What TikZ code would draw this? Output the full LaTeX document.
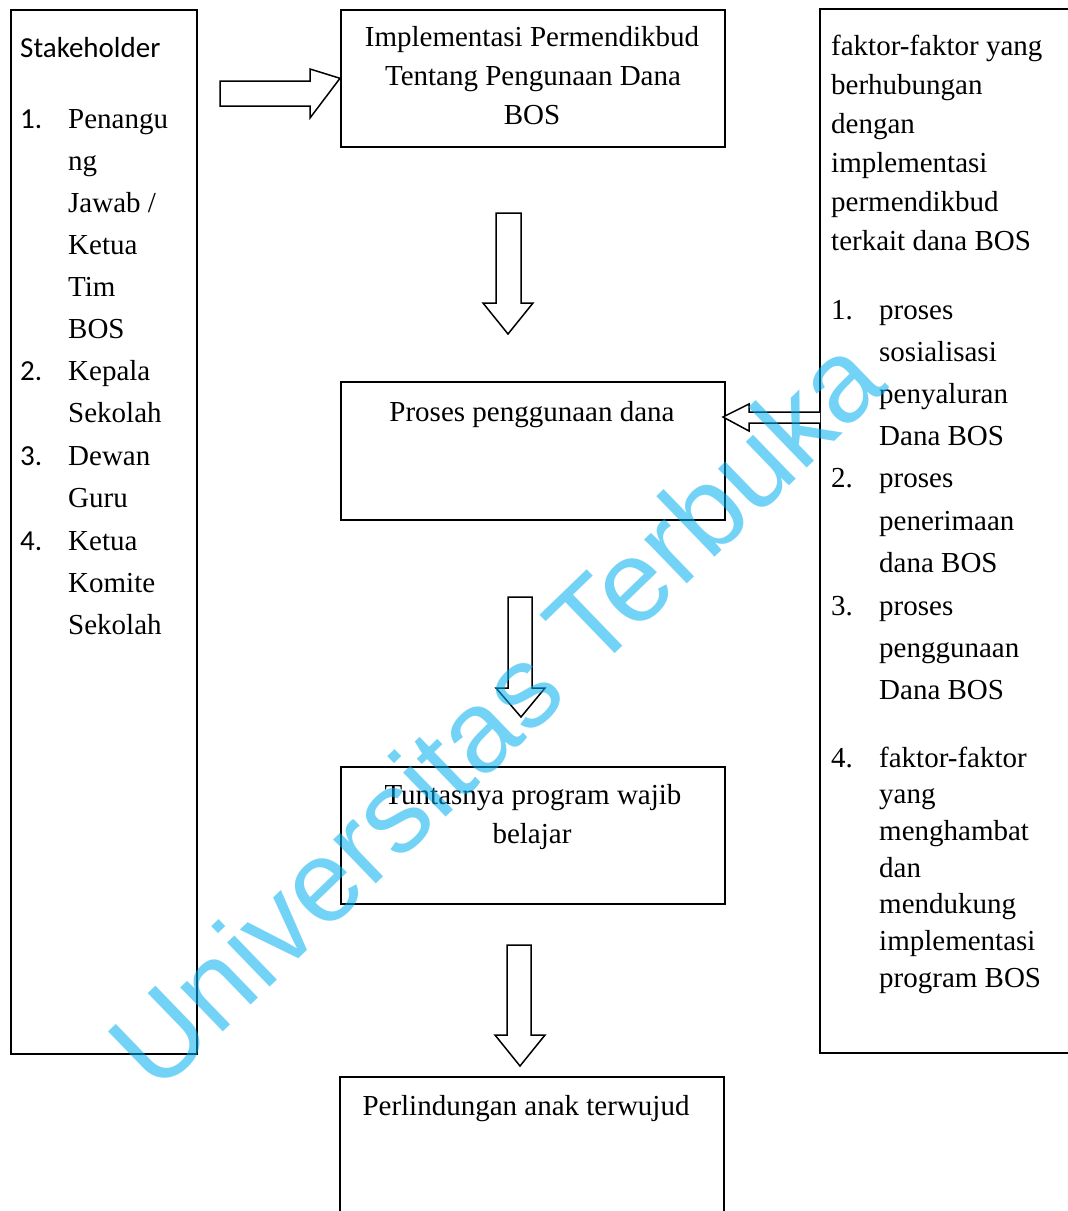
\documentclass[tikz,border=0pt]{standalone}
\usepackage{fontspec}
\setmainfont{Liberation Serif}
\newfontfamily\calfont{Carlito}
\newfontfamily\wmfont{Liberation Sans}
\definecolor{wmblue}{RGB}{0,176,240}
\begin{document}
\begin{tikzpicture}[x=1pt,y=-1pt,
  txt/.style={inner sep=0pt,font=\fontsize{29}{35}\selectfont},
  ltxt/.style={txt,anchor=base west},
  ctxt/.style={txt,anchor=base},
  sans/.style={inner sep=0pt,anchor=base west,font=\calfont\fontsize{29}{35}\selectfont},
  frame/.style={draw=black,line width=1.6pt},
  blockarrow/.style={draw=black,line width=1.5pt,fill=white,line join=miter}]
\fill[white] (0,0) rectangle (1068,1211);
\useasboundingbox (0,0) rectangle (1068,1211);

% boxes
\node[frame,minimum width=186pt,minimum height=1044pt,inner sep=0pt,anchor=north west] (left) at (10,9) {};
\node[frame,minimum width=384pt,minimum height=137pt,inner sep=0pt,anchor=north west] (b1) at (340,9) {};
\node[frame,minimum width=384pt,minimum height=138pt,inner sep=0pt,anchor=north west] (b2) at (340,381) {};
\node[frame,minimum width=384pt,minimum height=137pt,inner sep=0pt,anchor=north west] (b3) at (340,766) {};
\coordinate (b4tl) at (340,1077);
\coordinate (b4tr) at (724,1077);
\draw[frame] (340,1215) -- (b4tl) -- (b4tr) -- (724,1215);
\coordinate (rtl) at (820,9);
\coordinate (rbl) at (820,1053);
\draw[frame] (1072,9) -- (rtl) -- (rbl) -- (1072,1053);

% left box text
\node[sans] (sh) at (20,57) {Stakeholder};
\node[sans] (n1) at (20,128) {1.};
\node[ltxt] (l1) at (68,128) {Penangu};
\node[ltxt] (l2) at (68,170) {ng};
\node[ltxt] (l3) at (68,212) {Jawab /};
\node[ltxt] (l4) at (68,254) {Ketua};
\node[ltxt] (l5) at (68,296) {Tim};
\node[ltxt] (l6) at (68,338) {BOS};
\node[sans] (n2) at (20,380) {2.};
\node[ltxt] (l7) at (68,380) {Kepala};
\node[ltxt] (l8) at (68,422) {Sekolah};
\node[sans] (n3) at (20,465) {3.};
\node[ltxt] (l9) at (68,465) {Dewan};
\node[ltxt] (l10) at (68,507) {Guru};
\node[sans] (n4) at (20,550) {4.};
\node[ltxt] (l11) at (68,550) {Ketua};
\node[ltxt] (l12) at (68,592) {Komite};
\node[ltxt] (l13) at (68,634) {Sekolah};

% center texts
\node[ctxt] (t1a) at (532,46) {Implementasi Permendikbud};
\node[ctxt] (t1b) at (533,85) {Tentang Pengunaan Dana};
\node[ctxt] (t1c) at (532,124) {BOS};
\node[ctxt] (t2) at (532,421) {Proses penggunaan dana};
\node[ctxt] (t3a) at (533,804) {Tuntasnya program wajib};
\node[ctxt] (t3b) at (532,843) {belajar};
\node[ctxt] (t4) at (526,1115) {Perlindungan anak terwujud};

% right box text
\node[ltxt] (r1) at (831,55) {faktor-faktor yang};
\node[ltxt] (r2) at (831,94) {berhubungan};
\node[ltxt] (r3) at (831,133) {dengan};
\node[ltxt] (r4) at (831,172) {implementasi};
\node[ltxt] (r5) at (831,211) {permendikbud};
\node[ltxt] (r6) at (831,250) {terkait dana BOS};
\node[ltxt] (m1) at (831,319) {1.};
\node[ltxt] (s1) at (879,319) {proses};
\node[ltxt] (s2) at (879,361) {sosialisasi};
\node[ltxt] (s3) at (879,403) {penyaluran};
\node[ltxt] (s4) at (879,445) {Dana BOS};
\node[ltxt] (m2) at (831,487) {2.};
\node[ltxt] (s5) at (879,487) {proses};
\node[ltxt] (s6) at (879,530) {penerimaan};
\node[ltxt] (s7) at (879,572) {dana BOS};
\node[ltxt] (m3) at (831,615) {3.};
\node[ltxt] (s8) at (879,615) {proses};
\node[ltxt] (s9) at (879,657) {penggunaan};
\node[ltxt] (s10) at (879,699) {Dana BOS};
\node[ltxt] (m4) at (831,767) {4.};
\node[ltxt] (s11) at (879,767) {faktor-faktor};
\node[ltxt] (s12) at (879,803) {yang};
\node[ltxt] (s13) at (879,840) {menghambat};
\node[ltxt] (s14) at (879,877) {dan};
\node[ltxt] (s15) at (879,913) {mendukung};
\node[ltxt] (s16) at (879,950) {implementasi};
\node[ltxt] (s17) at (879,987) {program BOS};

% block arrows
\draw[blockarrow] (220,81) -- (310,81) -- (310,69) -- (b1.west) -- (310,118) -- (310,106) -- (220,106) -- cycle;
\draw[blockarrow] (496,213) -- (521,213) -- (521,303) -- (533,303) -- (508,334) -- (483,303) -- (496,303) -- cycle;
\draw[blockarrow] (508,597) -- (532,597) -- (532,688) -- (545,688) -- (521,717) -- (496,688) -- (508,688) -- cycle;
\draw[blockarrow] (507,945) -- (531,945) -- (531,1035) -- (545,1035) -- (520,1066) -- (495,1035) -- (507,1035) -- cycle;
\draw[blockarrow] (820,412) -- (749,412) -- (749,404) -- (723,417) -- (749,431) -- (749,423) -- (820,423);

% watermark
\node[inner sep=0pt,text=wmblue,opacity=0.55,rotate=44,font=\wmfont\fontsize{116}{116}\selectfont] (wm) at (495,712) {Universitas Terbuka};
\end{tikzpicture}
\end{document}
